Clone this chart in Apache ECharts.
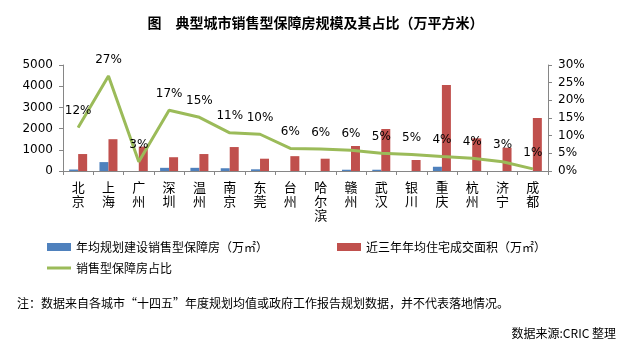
<!DOCTYPE html>
<html><head><meta charset="utf-8">
<script src="https://cdn.jsdelivr.net/npm/echarts@6/dist/echarts.min.js"></script>
<style>html,body{margin:0;padding:0;background:#fff}#c{width:631px;height:348px}</style>
</head><body><div id="c"></div>
<script>
const categories = ['北京','上海','广州','深圳','温州','南京','东莞','台州','哈尔滨','赣州','武汉','银川','重庆','杭州','济宁','成都'];
const plannedSupply = [70, 420, 0, 150, 150, 130, 80, 0, 0, 60, 60, 0, 200, 0, 0, 0];
const recentDeals = [800, 1500, 1150, 650, 800, 1130, 580, 700, 580, 1180, 1980, 520, 4060, 1540, 1100, 2500];
const shareRatio = [12.3, 26.9, 2.6, 17.2, 15.2, 10.8, 10.4, 6.4, 6.2, 5.9, 5.0, 4.7, 4.1, 3.6, 2.6, 0.6];
const leftTicks = [0, 5000, 1000];
const rightTicks = [0, 30, 5];
const seriesNames = ['年均规划建设销售型保障房（万㎡）','近三年年均住宅成交面积（万㎡）','销售型保障房占比'];

const font = '"DejaVu Sans","Noto Sans CJK SC",sans-serif';
const cjk = '"Noto Sans CJK SC",sans-serif';
const chart = echarts.init(document.getElementById('c'));
const axisLine = {show:true, lineStyle:{color:'#868686', width:1}};
chart.setOption({
  animation:false,
  title:[
    {text:'图　典型城市销售型保障房规模及其占比（万平方米）', left:'center', top:11,
     textStyle:{fontFamily:cjk, fontSize:14, fontWeight:'bold', color:'#000'}},
    {text:'注：数据来自各城市“十四五”年度规划均值或政府工作报告规划数据，并不代表落地情况。', left:12, top:292,
     textStyle:{fontFamily:cjk, fontSize:12, fontWeight:'normal', color:'#000'}},
    {text:'数据来源:CRIC 整理', right:10, top:322,
     textStyle:{fontFamily:cjk, fontSize:12, fontWeight:'normal', color:'#000'}}
  ],
  legend:[
    {data:[seriesNames[0]], left:42, top:236, itemWidth:24, itemHeight:8, icon:'rect',
     textStyle:{fontFamily:cjk, fontSize:12, color:'#000'}},
    {data:[seriesNames[1]], left:332, top:236, itemWidth:24, itemHeight:8, icon:'rect',
     textStyle:{fontFamily:cjk, fontSize:12, color:'#000'}},
    {data:[{name:seriesNames[2], icon:'rect', itemStyle:{color:'#9BBB59'}}], left:42, top:257, itemWidth:24, itemHeight:3,
     textStyle:{fontFamily:cjk, fontSize:12, color:'#000'}}
  ],
  grid:{left:63, right:83, top:65, bottom:177},
  xAxis:{type:'category', data:categories, axisLine:axisLine,
    axisTick:{show:true, length:4, lineStyle:{color:'#868686'}},
    axisLabel:{interval:0, margin:9, fontFamily:cjk, fontSize:13, color:'#000', lineHeight:14,
      formatter:v=>v.split('').join('\n')}},
  yAxis:[
    {type:'value', min:leftTicks[0], max:leftTicks[1], interval:leftTicks[2], splitLine:{show:false},
     axisLine:axisLine, axisTick:{show:true, length:4, lineStyle:{color:'#868686'}},
     axisLabel:{fontFamily:font, fontSize:12, color:'#000', margin:10, formatter:v=>String(v)}},
    {type:'value', min:rightTicks[0], max:rightTicks[1], interval:rightTicks[2], splitLine:{show:false},
     axisLine:axisLine, axisTick:{show:true, length:4, lineStyle:{color:'#868686'}},
     axisLabel:{fontFamily:font, fontSize:12, color:'#000', margin:10, formatter:'{value}%'}}
  ],
  series:[
    {name:seriesNames[0], type:'bar', data:plannedSupply, barWidth:9, barGap:'0%', itemStyle:{color:'#4F81BD'}},
    {name:seriesNames[1], type:'bar', data:recentDeals, barWidth:9, barGap:'0%', itemStyle:{color:'#C0504D'}},
    {name:seriesNames[2], type:'line', yAxisIndex:1, data:shareRatio, symbol:'circle', symbolSize:1, showSymbol:true,
     lineStyle:{color:'#9BBB59', width:3}, itemStyle:{color:'#9BBB59'},
     label:{show:true, position:'top', distance:10, fontFamily:font, fontSize:12, color:'#000',
       formatter:p=>Math.round(p.value)+'%'}}
  ]
});
</script></body></html>
